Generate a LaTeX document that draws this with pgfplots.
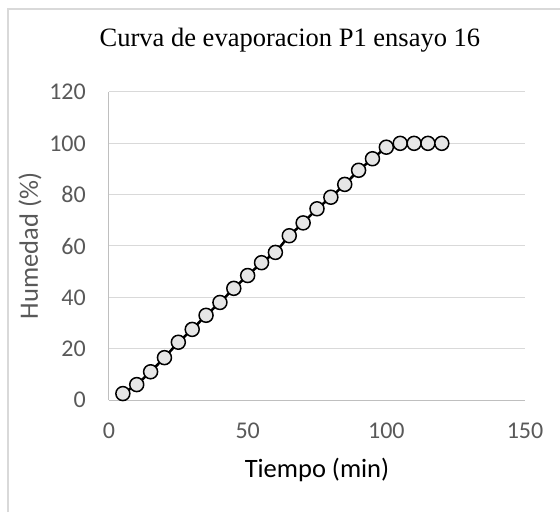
\documentclass[border=0pt]{standalone}
\usepackage{pgfplots}
\pgfplotsset{compat=1.18}
\usepackage{fontspec}
\setmainfont{Liberation Serif}
\newfontfamily\carlito{Carlito}
\definecolor{tickgray}{HTML}{595959}
\definecolor{gridgray}{HTML}{D9D9D9}
\definecolor{axisgray}{HTML}{BFBFBF}
\definecolor{markfill}{HTML}{E6E6E6}
\begin{document}
\begin{tikzpicture}[x=1pt,y=1pt]
\path[use as bounding box] (0,0) rectangle (560,512);
\draw[gridgray, line width=1.5pt] (8,0) -- (8,503) -- (560,503);
\begin{axis}[
  at={(109pt,112pt)}, anchor=south west,
  scale only axis, width=416pt, height=308pt,
  xmin=0, xmax=150, ymin=0, ymax=120,
  xtick={0,50,100,150}, ytick={0,20,...,120},
  axis lines=left,
  axis line style={-, draw=axisgray, line width=1pt},
  major tick length=0pt,
  ymajorgrids, grid style={gridgray, line width=1pt},
  tick label style={font=\carlito\fontsize{24}{24}\selectfont, text=tickgray, inner sep=0pt},
  /pgf/number format/assume math mode=true,
  xticklabel style={anchor=north, yshift=-23pt},
  yticklabel style={anchor=east, xshift=-23pt},
  xlabel={Tiempo (min)},
  ylabel={Humedad (\%)},
  xlabel style={font=\carlito\fontsize{26.5}{26.5}\selectfont, text=black, at={(axis description cs:0.5,0)}, anchor=base, yshift=-77pt, inner sep=0pt},
  ylabel style={font=\carlito\fontsize{26.5}{26.5}\selectfont, text=tickgray, at={(axis description cs:0,0.5)}, anchor=base, yshift=71pt, inner sep=0pt},
  title={Curva de evaporacion P1 ensayo 16},
  title style={font=\fontsize{26.5}{26.5}\selectfont, at={(axis description cs:0.435,1)}, anchor=base, yshift=39pt, inner sep=0pt},
  clip=false,
]
\addplot[black, line width=2.5pt, mark=*, mark size=7pt,
  mark options={fill=markfill, draw=black, line width=1.5pt}]
coordinates {
(5,2.5) (10,6) (15,11) (20,16.5) (25,22.5) (30,27.5) (35,33) (40,38)
(45,43.5) (50,48.5) (55,53.5) (60,57.5) (65,64) (70,69) (75,74.5) (80,79)
(85,84) (90,89.5) (95,94) (100,98.5) (105,100) (110,100) (115,100) (120,100)
};
\end{axis}
\end{tikzpicture}
\end{document}
